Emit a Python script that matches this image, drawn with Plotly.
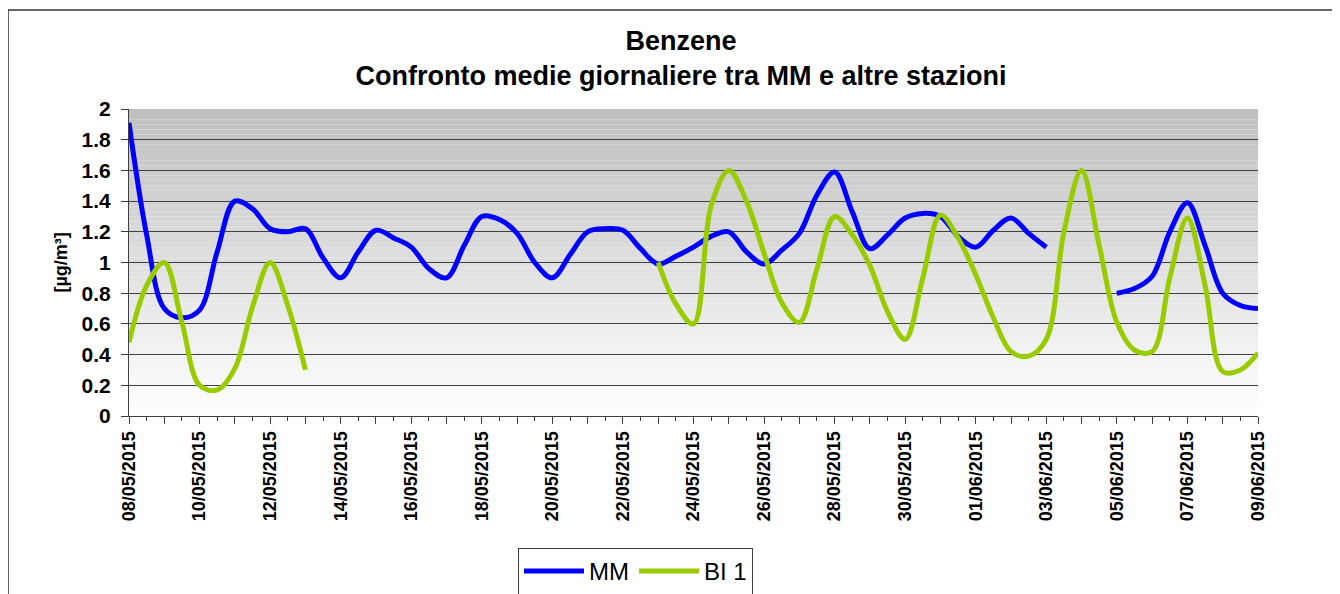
import pandas as pd
import plotly.graph_objects as go

# dati: medie (ogni 12 ore) dal 08/05/2015 al 09/06/2015
start = "2015-05-08"
end = "2015-06-09"

mm = [1.91, 1.18, 0.70, 0.64, 0.69, 1.07, 1.40, 1.35, 1.22, 1.20,
      1.22, 1.03, 0.90, 1.07, 1.21, 1.16, 1.10, 0.96, 0.90, 1.11,
      1.30, 1.28, 1.19, 1.00, 0.90, 1.05, 1.20, 1.22, 1.21, 1.09,
      0.99, 1.04, 1.10, 1.17, 1.20, 1.07, 0.99, 1.08, 1.19, 1.44,
      1.59, 1.33, 1.09, 1.18, 1.29, 1.32, 1.30, 1.17, 1.10, 1.21,
      1.29, 1.19, 1.10, None, None, None, 0.80, 0.83, 0.91, 1.20,
      1.39, 1.11, 0.80, 0.72, 0.70]

bi1 = [0.48, 0.85, 1.00, 0.61, 0.20, 0.17, 0.31, 0.71, 1.00, 0.72,
       0.30, None, None, None, None, None, None, None, None, None,
       None, None, None, None, None, None, None, None, None, None,
       1.00, 0.73, 0.60, 1.37, 1.60, 1.40, 1.06, 0.74, 0.61, 0.96,
       1.30, 1.18, 0.98, 0.68, 0.50, 0.90, 1.31, 1.16, 0.92, 0.64,
       0.42, 0.39, 0.50, 1.20, 1.60, 1.11, 0.61, 0.43, 0.42, 0.90,
       1.29, 0.85, 0.29, 0.30, 0.41]

tick_labels = ["08/05/2015", "10/05/2015", "12/05/2015", "14/05/2015",
               "16/05/2015", "18/05/2015", "20/05/2015", "22/05/2015",
               "24/05/2015", "26/05/2015", "28/05/2015", "30/05/2015",
               "01/06/2015", "03/06/2015", "05/06/2015", "07/06/2015",
               "09/06/2015"]

x = pd.date_range(start, end, freq="12h")
giorni = pd.date_range(start, end, freq="D")
testo_tick = [tick_labels[i // 2] if i % 2 == 0 else "" for i in range(len(giorni))]

FONT = "Liberation Sans, Arial, sans-serif"
GRIGIO = "#404040"

fig = go.Figure()
fig.add_trace(go.Scatter(x=x, y=mm, name="MM", mode="lines",
                         line=dict(color="#0000FF", width=5, shape="spline", smoothing=1)))
fig.add_trace(go.Scatter(x=x, y=bi1, name="BI 1", mode="lines",
                         line=dict(color="#99CC00", width=5, shape="spline", smoothing=1)))

# sfondo sfumato (grigio in alto, bianco in basso)
shapes = []
n = 60
for i in range(n):
    t = i / (n - 1)
    c = int(255 - (255 - 192) * t)
    shapes.append(dict(type="rect", xref="paper", yref="y", x0=0, x1=1,
                       y0=2 * i / n, y1=2 * (i + 1) / n, layer="below",
                       line=dict(width=0), fillcolor=f"rgb({c},{c},{c})"))
# niente griglia sul bordo superiore
shapes.append(dict(type="line", xref="paper", yref="y", x0=0.001, x1=1, y0=2, y1=2,
                   line=dict(color="rgb(192,192,192)", width=2)))

# la pagina ha 8px di margine: coordinate della figura = schermo - 8
off = 8
l, t = 129 - off, 109 - off
pw, ph = 1129, 307
W, H = 1340, 594
r, b = W - l - pw, H - t - ph


def px_x(sx):
    return (sx - off - l) / pw


def px_y(sy):
    return (t + ph - (sy - off)) / ph


# cornice esterna del grafico
shapes.append(dict(type="rect", xref="paper", yref="paper",
                   x0=px_x(8), x1=px_x(1333), y0=px_y(640), y1=px_y(10),
                   line=dict(color="#333333", width=1.5)))

fig.update_layout(
    width=W, height=H,
    margin=dict(l=l, r=r, t=t, b=b, autoexpand=False),
    paper_bgcolor="white",
    plot_bgcolor="white",
    font=dict(family=FONT, color="black"),
    title=dict(text="Benzene<br>Confronto medie giornaliere tra MM e altre stazioni",
               font=dict(size=27, weight="bold"), x=(681 - off) / W, xanchor="center",
               xref="container", yref="container", y=1 - 42 / H, yanchor="top"),
    shapes=shapes,
    showlegend=True,
    legend=dict(orientation="h", x=px_x(518), y=px_y(548),
                xanchor="left", yanchor="top", bgcolor="white",
                bordercolor=GRIGIO, borderwidth=1, font=dict(size=24),
                itemwidth=60),
    annotations=[dict(text="<b>[µg/m³]</b>", xref="paper", yref="paper",
                      x=px_x(60), y=0.5, textangle=-90, showarrow=False,
                      font=dict(size=18), xanchor="center", yanchor="middle")],
)

fig.update_xaxes(
    type="date", range=[start, end],
    tickmode="array", tickvals=giorni, ticktext=testo_tick,
    tickangle=-90, tickfont=dict(size=18, weight="bold"),
    ticks="outside", ticklen=7, tickcolor=GRIGIO,
    minor=dict(dtick=43200000, tick0=start, ticks="outside", ticklen=4,
               tickcolor=GRIGIO, showgrid=False),
    showline=True, linecolor=GRIGIO, linewidth=1,
    showgrid=False, zeroline=False,
)
fig.update_yaxes(
    range=[0, 2], dtick=0.2,
    tickfont=dict(size=21, weight="bold"),
    ticks="outside", ticklen=7, tickcolor=GRIGIO, ticklabelstandoff=6,
    showline=True, linecolor=GRIGIO, linewidth=1,
    showgrid=True, gridcolor=GRIGIO, gridwidth=1, zeroline=False,
)

fig.write_html("out.html")
